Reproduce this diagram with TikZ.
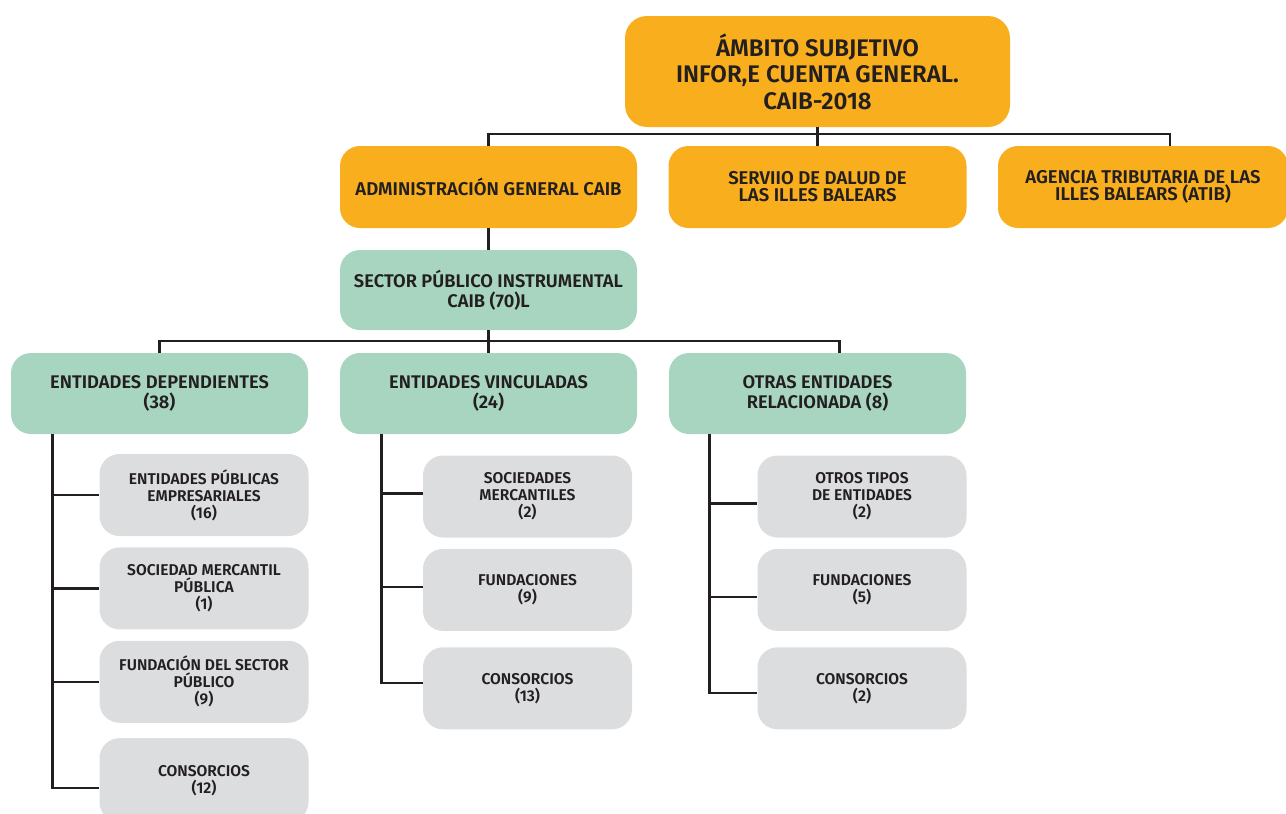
\documentclass[tikz,border=0pt]{standalone}
\usepackage{fontspec}
\setmainfont{Fira Sans}[BoldFont={Fira Sans SemiBold}]
\usetikzlibrary{positioning}
\definecolor{caiborange}{HTML}{F9AE1E}
\definecolor{caibgreen}{HTML}{A7D5BF}
\definecolor{caibgray}{HTML}{DCDDDF}
\definecolor{caibtext}{HTML}{231F20}

\begin{document}
\begin{tikzpicture}[
					x=1pt, y=-1pt,
					node distance=11pt,
					orangebox/.style={rectangle, fill=caiborange, rounded corners=20pt, align=center,
						text=caibtext, font=\bfseries\fontsize{18.5}{17}\selectfont},
					greenbox/.style={rectangle, fill=caibgreen, rounded corners=20pt, align=center,
						minimum width=297pt, minimum height=81pt, text=caibtext,
						font=\bfseries\fontsize{18.3}{20}\selectfont},
					graybox/.style={rectangle, fill=caibgray, rounded corners=20pt, align=center,
						minimum width=209pt, minimum height=82pt, text=caibtext,
						font=\bfseries\fontsize{15.6}{17}\selectfont},
					link/.style={draw=caibtext, line width=2.2pt}
					]
					\useasboundingbox (0,0) rectangle (1286,814);
					% top level
					\node[orangebox, minimum width=385pt, minimum height=111pt, rounded corners=22pt,
						font=\bfseries\fontsize{24}{26.5}\selectfont] (top) at (817.5,71.5)
						{ÁMBITO SUBJETIVO\\INFOR,E CUENTA GENERAL.\\CAIB-2018};
					\node[orangebox, minimum width=297pt, minimum height=82pt] (admin) at (488.5,187)
						{ADMINISTRACIÓN GENERAL CAIB};
					\node[orangebox, minimum width=298pt, minimum height=82pt] (serv) at (817.5,187)
						{SERVIIO DE DALUD DE\\LAS ILLES BALEARS};
					\node[orangebox, minimum width=290pt, minimum height=82pt] (atib) at (1143,187)
						{AGENCIA TRIBUTARIA DE LAS\\ILLES BALEARS (ATIB)};
					% sector publico instrumental
					\node[greenbox, minimum height=80pt] (sector) at (488.5,290)
						{SECTOR PÚBLICO INSTRUMENTAL\\CAIB (70)L};
					\node[greenbox] (dep) at (159.5,393.5) {ENTIDADES DEPENDIENTES\\(38)};
					\node[greenbox] (vinc) at (488.5,393.5) {ENTIDADES VINCULADAS\\(24)};
					\node[greenbox] (otras) at (817.5,393.5) {OTRAS ENTIDADES\\RELACIONADA (8)};
					% entidades dependientes
					\node[graybox] (epe) at (204,495) {ENTIDADES PÚBLICAS\\EMPRESARIALES\\(16)};
					\node[graybox] (smp) [below=of epe] {SOCIEDAD MERCANTIL\\PÚBLICA\\(1)};
					\node[graybox] (fsp) [below=of smp] {FUNDACIÓN DEL SECTOR\\PÚBLICO\\(9)};
					\node[graybox, minimum height=84pt] (cons1) [below=15pt of fsp] {CONSORCIOS\\(12)};
					% entidades vinculadas
					\node[graybox] (socm) at (527.5,496.5) {SOCIEDADES\\MERCANTILES\\(2)};
					\node[graybox] (fund2) [below=of socm] {FUNDACIONES\\(9)};
					\node[graybox] (cons2) [below=16pt of fund2] {CONSORCIOS\\(13)};
					% otras entidades relacionadas
					\node[graybox] (otip) at (862,496.5) {OTROS TIPOS\\DE ENTIDADES\\(2)};
					\node[graybox] (fund3) [below=of otip] {FUNDACIONES\\(5)};
					\node[graybox] (cons3) [below=16pt of fund3] {CONSORCIOS\\(2)};
					% connectors
					\coordinate (bus1) at (817.5,134);
					\coordinate (bus2) at (488.5,341);
					\draw[link] (top) -- (serv);
					\draw[link] (admin.north) |- ([xshift=27pt]atib.north |- bus1) -- ([xshift=27pt]atib.north);
					\draw[link] (admin) -- (sector);
					\draw[link] (sector) -- (vinc);
					\draw[link] (dep.north) |- ([xshift=22pt]otras.north |- bus2) -- ([xshift=22pt]otras.north);
					\draw[link] ([xshift=-107pt]dep.south) |- ([yshift=-8pt]cons1.west);
					\foreach \b in {epe,smp,fsp}
						\draw[link] ([xshift=-107pt]dep.south |- \b.west) -- (\b.west);
					\draw[link] ([xshift=-107pt]vinc.south) |- ([yshift=5pt]cons2.west);
					\foreach \b in {socm,fund2}
						\draw[link] ([xshift=-107pt]vinc.south) |- ([yshift=3pt]\b.west);
					\draw[link] ([xshift=-108pt]otras.south) |- ([yshift=-5pt]cons3.west);
					\foreach \b in {otip,fund3}
						\draw[link] ([xshift=-108pt]otras.south) |- ([yshift=-7pt]\b.west);
				\end{tikzpicture}
\end{document}
